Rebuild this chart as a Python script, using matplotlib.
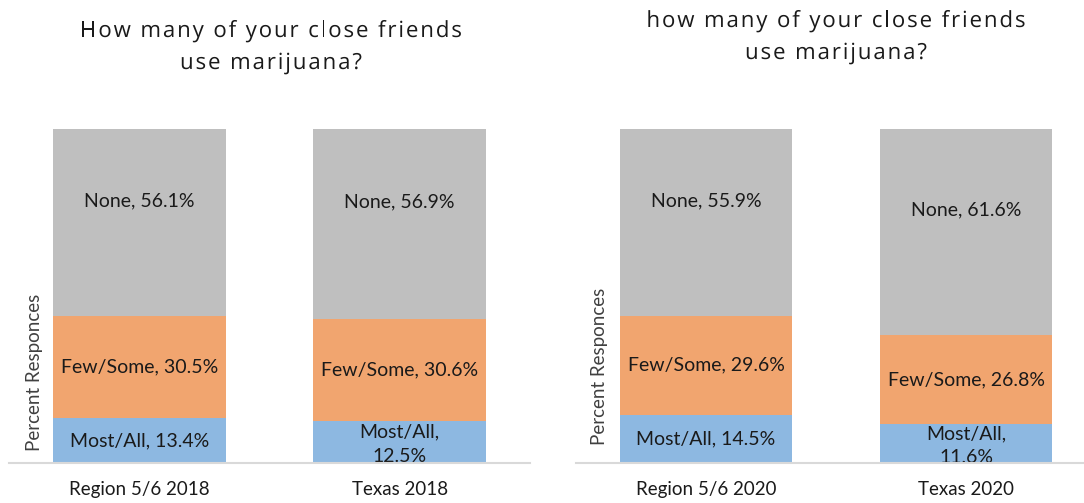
import matplotlib
matplotlib.use("Agg")
import matplotlib.pyplot as plt
from matplotlib.font_manager import FontProperties
from matplotlib.textpath import TextPath, TextToPath
from matplotlib.patches import PathPatch
from matplotlib.transforms import Affine2D

plt.rcParams['font.family'] = ['Lato', 'DejaVu Sans']

categories_left = ["Region 5/6 2018", "Texas 2018"]
categories_right = ["Region 5/6 2020", "Texas 2020"]
series_names = ["Most/All", "Few/Some", "None"]
most_all_left = [13.4, 12.5]
few_some_left = [30.5, 30.6]
none_left = [56.1, 56.9]
most_all_right = [14.5, 11.6]
few_some_right = [29.6, 26.8]
none_right = [55.9, 61.6]
title_left = ["How many of your close friends", "use marijuana?"]
title_right = ["how many of your close friends", "use marijuana?"]
ylabel = "Percent Responces"

colors = ["#8DB8E1", "#F1A56F", "#BFBFBF"]
W, H = 1084, 503
fig = plt.figure(figsize=(W / 100, H / 100), dpi=100)


def draw(ax, cats, series):
    x = list(range(len(cats)))
    bottoms = [0.0] * len(cats)
    for name, vals, col in zip(series_names, series, colors):
        ax.bar(x, vals, bottom=bottoms, width=0.664, color=col, zorder=2)
        for i, v in enumerate(vals):
            yc = bottoms[i] + v / 2
            if name == "None":
                yc += 6.5
            wrap = v < 13
            if wrap:
                yc -= 0.6
            sep = ",\n" if wrap else ", "
            ax.text(x[i], yc, f"{name}{sep}{v:.1f}%", ha="center", va="center",
                    fontsize=14, color="#1a1a1a", linespacing=1.5 if wrap else 1.0,
                    zorder=3)
        bottoms = [b + v for b, v in zip(bottoms, vals)]
    ax.set_xlim(-0.5, len(cats) - 0.5)
    ax.set_ylim(0, 100)
    ax.set_xticks(x)
    ax.set_xticklabels(cats, fontsize=13.5, color="#1a1a1a")
    ax.set_yticks([])
    for s in ["top", "right", "left"]:
        ax.spines[s].set_visible(False)
    ax.spines["bottom"].set_color("#D9D9D9")
    ax.spines["bottom"].set_linewidth(1.5)
    ax.spines["bottom"].set_zorder(4)
    ax.tick_params(axis="x", length=0, pad=13)


axL = fig.add_axes([9 / W, 1 - 463 / H, 521 / W, 334 / H])
axR = fig.add_axes([576 / W, 1 - 463 / H, 520 / W, 334 / H])
draw(axL, categories_left, [most_all_left, few_some_left, none_left])
draw(axR, categories_right, [most_all_right, few_some_right, none_right])

# overlay in pixel coordinates for letter-spaced titles
ov = fig.add_axes([0, 0, 1, 1], zorder=10)
ov.set_xlim(0, W)
ov.set_ylim(H, 0)
ov.axis("off")

tprops = FontProperties(family=['Open Sans', 'DejaVu Sans'], size=16)
t2p = TextToPath()
PX = 100 / 72.0


def textw(s):
    w_ref, _, _ = t2p.get_text_width_height_descent("x", tprops, ismath=False)
    w, _, _ = t2p.get_text_width_height_descent(s + "x", tprops, ismath=False)
    return (w - w_ref) * PX


def tracked_title(lines, xc, base_first, line_gap, track=1.9):
    for k, line in enumerate(lines):
        total = textw(line) + track * (len(line) - 1)
        x0 = xc - total / 2
        yb = base_first + k * line_gap
        for i, ch in enumerate(line):
            if ch == " ":
                continue
            xp = x0 + textw(line[:i]) + track * i
            tp = TextPath((0, 0), ch, prop=tprops)
            path = Affine2D().scale(PX, -PX).translate(xp, yb).transform_path(tp)
            ov.add_patch(PathPatch(path, facecolor="#1a1a1a", edgecolor="none", lw=0))


tracked_title(title_left, 271, 37, 32)
tracked_title(title_right, 836, 27, 32)

fig.text(35 / W, 1 - 372 / H, ylabel, ha="center", va="center", rotation=90,
         fontsize=13.5, color="#404040")
fig.text(600 / W, 1 - 366 / H, ylabel, ha="center", va="center", rotation=90,
         fontsize=13.5, color="#404040")

fig.savefig("out.png", dpi=100)
